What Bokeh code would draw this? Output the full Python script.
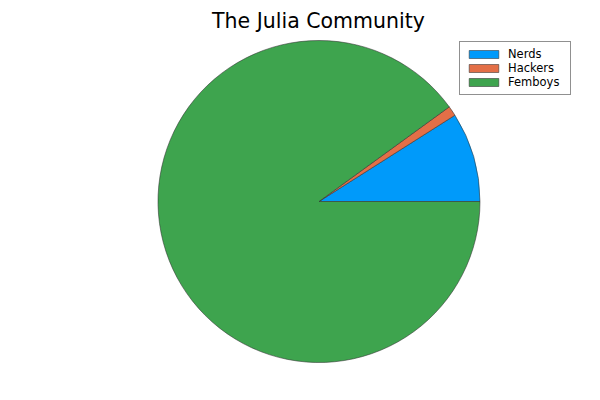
import numpy as np
from bokeh.plotting import figure
from bokeh.models import Range1d, Legend, LegendItem, ColumnDataSource, Label
from bokeh.embed import file_html
from bokeh.resources import INLINE

categories = ["Nerds", "Hackers", "Femboys"]
values = [9, 1, 90]
colors = ["#009AFA", "#E36F47", "#3EA44E"]
title_text = "The Julia Community"

vals = np.array(values, dtype=float)
fr = vals / vals.sum()
ends = np.cumsum(fr) * 2 * np.pi
starts = np.concatenate([[0.0], ends[:-1]])

src = ColumnDataSource(dict(cat=categories, start=starts, end=ends, color=colors))

p = figure(width=600, height=400, output_backend="svg", toolbar_location=None,
           x_range=Range1d(0, 600), y_range=Range1d(0, 400),
           min_border=0, min_border_left=0, min_border_right=0,
           min_border_top=0, min_border_bottom=0)
p.axis.visible = False
p.grid.visible = False
p.outline_line_color = None
p.background_fill_color = "white"
p.border_fill_color = "white"

r = p.wedge(x=318.5, y=199, radius=161, start_angle="start", end_angle="end",
            fill_color="color", line_color="#333333", line_alpha=0.7, line_width=0.8,
            source=src)

items = [LegendItem(label=c, renderers=[r], index=i) for i, c in enumerate(categories)]
legend = Legend(items=items, location=(459, 305), orientation="vertical",
                label_text_font="DejaVu Sans", label_text_font_size="11.5px",
                label_text_color="black",
                glyph_width=37, glyph_height=10, label_height=10, spacing=0,
                label_standoff=6, padding=5, margin=0, label_width=57,
                border_line_color="#222222", border_line_width=1,
                background_fill_color="white", background_fill_alpha=1.0)
p.add_layout(legend)

p.add_layout(Label(x=318, y=400 - 20, text=title_text, text_align="center",
                   text_baseline="alphabetic", text_font="DejaVu Sans",
                   text_font_size="20.5px", text_color="black"))

open("out.html", "w").write(file_html(p, INLINE))
